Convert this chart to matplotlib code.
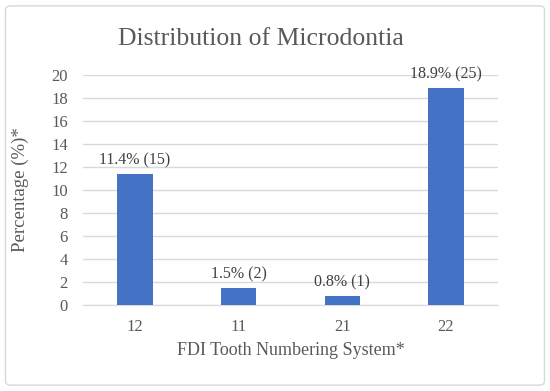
import numpy as np
import matplotlib.pyplot as plt
from matplotlib.patches import FancyBboxPatch

teeth = ['12', '11', '21', '22']
percent = [11.4, 1.5, 0.8, 18.9]
counts = [15, 2, 1, 25]
yticks = list(range(0, 21, 2))

plt.rcParams['font.family'] = ['Liberation Serif', 'DejaVu Serif']
txt = '#595959'

fig = plt.figure(figsize=(5.5, 3.91), dpi=100)
ax = fig.add_axes([0.151, 0.22, 0.754, 0.588])

x = np.arange(len(teeth))
ax.bar(x, percent, width=0.34, color='#4472C4', zorder=3)
for xi, p, c in zip(x, percent, counts):
    ax.annotate('{0}% ({1})'.format(p, c), (xi, p), xytext=(0, 4),
                textcoords='offset points', ha='center', va='bottom',
                fontsize=11.5, color='#404040', zorder=4)

ax.set_xlim(-0.5, len(teeth) - 0.5)
ax.set_ylim(0, 20)
ax.set_yticks(yticks)
ax.set_xticks(x)
ax.set_xticklabels(teeth)
ax.yaxis.grid(True, color='#D9D9D9', linewidth=1, zorder=0)
for s in ['top', 'right', 'left']:
    ax.spines[s].set_visible(False)
ax.spines['bottom'].set_color('#D9D9D9')
ax.tick_params(length=0, labelsize=12, colors=txt)
ax.tick_params(axis='y', pad=11)
ax.tick_params(axis='x', pad=10)

ax.set_xlabel('FDI Tooth Numbering System*', fontsize=13, color=txt, labelpad=5)
ax.set_ylabel('Percentage (%)*', fontsize=13.5, color=txt, labelpad=16)
fig.text(0.475, 0.9, 'Distribution of Microdontia', ha='center', va='center',
         fontsize=18.5, color=txt)

border = FancyBboxPatch((0.01, 0.015), 0.98, 0.97, boxstyle='round,pad=0,rounding_size=0.01',
                        transform=fig.transFigure, fill=False, edgecolor='#D9D9D9', linewidth=1)
fig.patches.append(border)

fig.savefig('out.png', dpi=100)
